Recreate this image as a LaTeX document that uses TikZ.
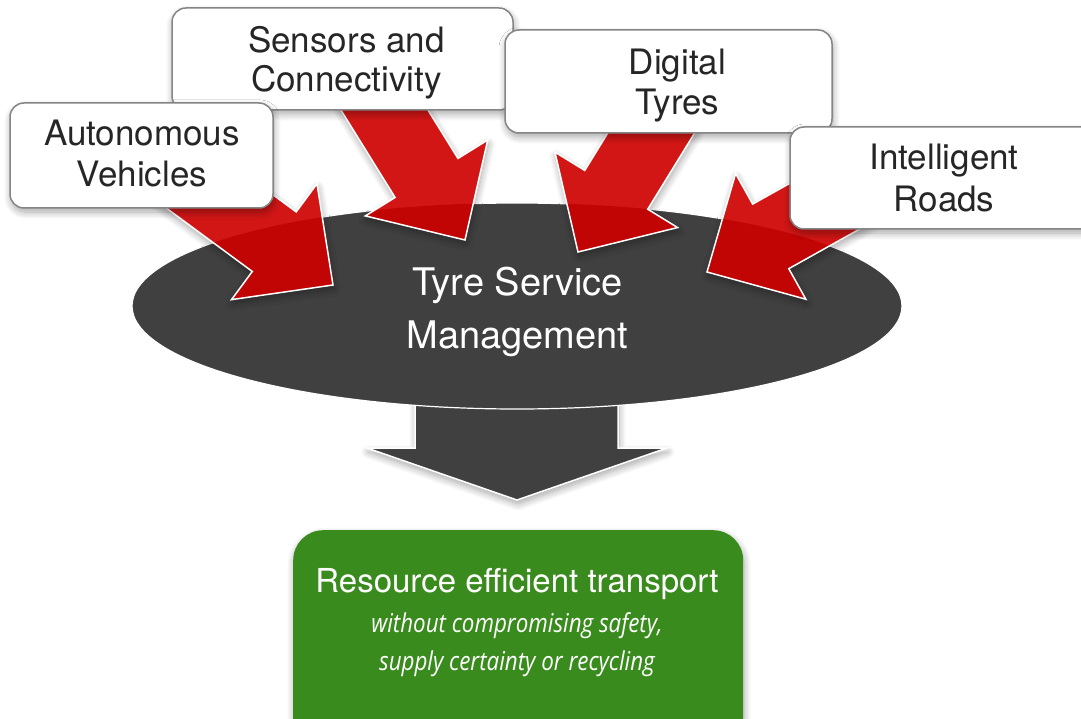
\documentclass[tikz,border=0pt]{standalone}
\usepackage{fontspec}
\setmainfont{TeX Gyre Heros}
\newfontfamily\condit[FakeStretch=0.86]{Open Sans}
\usetikzlibrary{shapes.geometric,shadows.blur}
\definecolor{ellgray}{HTML}{404040}
\definecolor{redlight}{HTML}{D21616}
\definecolor{reddark}{HTML}{C10404}
\definecolor{boxborder}{HTML}{858585}
\definecolor{txt}{HTML}{262626}
\definecolor{resgreen}{HTML}{3A8B1D}
\tikzset{
  softshadow/.style={blur shadow={shadow xshift=1pt, shadow yshift=-4pt, shadow blur radius=7pt, shadow blur steps=10, shadow opacity=35}},
  infobox/.style={draw=boxborder, line width=1.5pt, fill=white, rounded corners=14pt, softshadow, inner sep=0pt},
  boxtext/.style={text=txt, anchor=base, inner sep=0pt, font=\fontsize{35}{41}\selectfont},
  elltext/.style={text=white, anchor=base, inner sep=0pt, font=\fontsize{38}{53}\selectfont},
  restitle/.style={text=white, anchor=base, inner sep=0pt, font=\fontsize{33}{38}\selectfont},
  ressub/.style={text=white, anchor=base, inner sep=0pt, font=\condit\itshape\fontsize{26}{38}\selectfont},
}
\newcommand\arrowshape{(0,0) -- (-73,72) -- (-73,37) -- (-215,37) -- (-215,-37) -- (-73,-37) -- (-73,-72) -- cycle}
\newcommand\redarrow[3]{%
  \begin{scope}[shift={(#1,-#2)}, rotate=#3]
    \fill[redlight, softshadow] \arrowshape;
    \begin{scope}
      \clip \arrowshape;
      \fill[reddark, rotate=-#3, shift={(-#1,#2)}] (517,-306) ellipse [x radius=385pt, y radius=103pt];
    \end{scope}
    \draw[white, line width=1.5pt, line join=miter] \arrowshape;
  \end{scope}}
\begin{document}
\begin{tikzpicture}[x=1pt, y=1pt]
\useasboundingbox (0,0) rectangle (1081,-719);
% down arrow
\filldraw[fill=ellgray, draw=white, line width=1.5pt, softshadow]
  (415,-380) -- (415,-448) -- (367,-448) -- (517,-500) -- (667,-448) -- (618,-448) -- (618,-380) -- cycle;
% ellipse
\node[ellipse, fill=ellgray, draw=white, line width=1.2pt, minimum width=770pt, minimum height=206pt, inner sep=0pt] (tsm) at (517,-306) {};
% red arrows
\redarrow{333}{285}{-36.4}
\redarrow{465}{240}{-58.2}
\redarrow{578}{252}{-121.6}
\redarrow{707}{272}{-150.8}
% ellipse text
\node[elltext] (tsm1) at (517.5,-295) {Tyre Service};
\node[elltext] (tsm2) at (517.5,-348) {Management};
% boxes
\node[infobox, minimum width=341pt, minimum height=102pt] (sc) at (342.5,-59) {};
\node[boxtext] (sc1) at (346.5,-53) {Sensors and};
\node[boxtext] (sc2) at (346.5,-92) {Connectivity};
\node[infobox, minimum width=263pt, minimum height=105pt] (av) at (141.5,-155.5) {};
\node[boxtext] (av1) at (142,-146) {Autonomous};
\node[boxtext] (av2) at (142,-187) {Vehicles};
\node[infobox, minimum width=327pt, minimum height=103pt] (dt) at (668.5,-81.5) {};
\node[boxtext] (dt1) at (677.5,-75) {Digital};
\node[boxtext] (dt2) at (677.5,-115) {Tyres};
\node[infobox, minimum width=310pt, minimum height=102pt] (ir) at (945,-178) {};
\node[boxtext] (ir1) at (944,-170) {Intelligent};
\node[boxtext] (ir2) at (944,-212) {Roads};
% result box
\node[fill=resgreen, rounded corners=30pt, minimum width=450pt, minimum height=230pt, anchor=north west, inner sep=0pt, softshadow] (ret) at (293,-530) {};
\node[restitle] (ret1) at (517,-592) {Resource efficient transport};
\node[ressub] (ret2) at (517,-632) {without compromising safety,};
\node[ressub] (ret3) at (517,-670) {supply certainty or recycling};
\end{tikzpicture}
\end{document}
